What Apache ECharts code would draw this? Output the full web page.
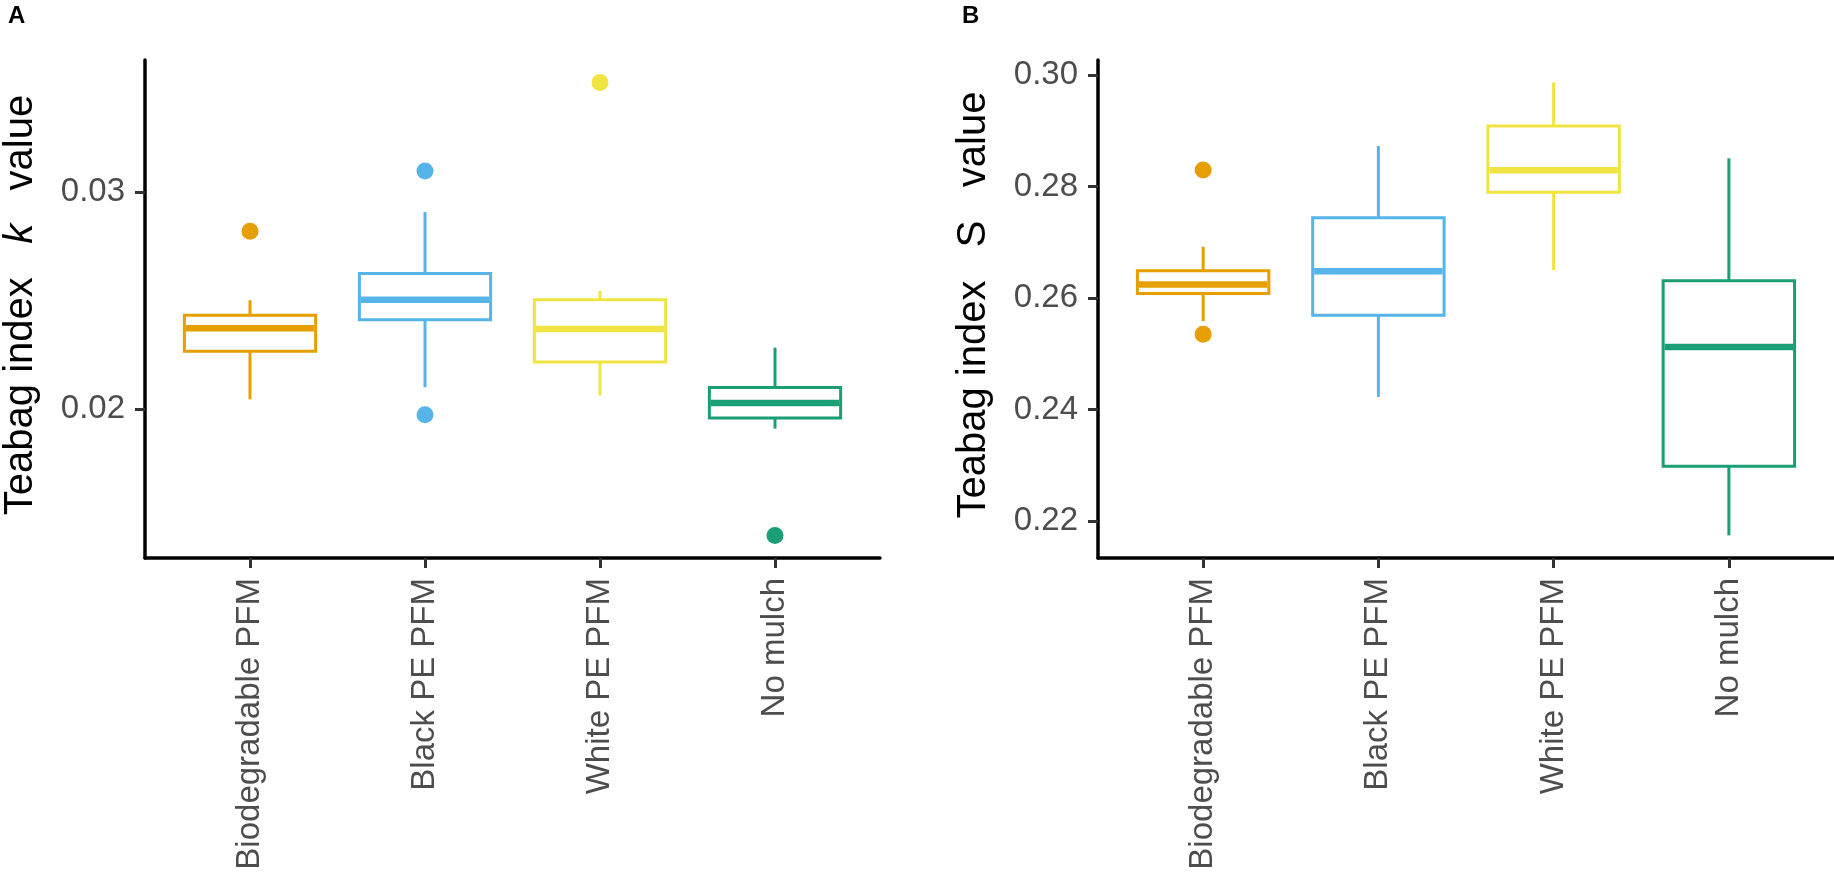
<!DOCTYPE html>
<html>
<head>
<meta charset="utf-8">
<script src="https://cdn.jsdelivr.net/npm/echarts@6/dist/echarts.min.js"></script>
<style>
  html, body { margin: 0; padding: 0; background: #fff; }
  #chart { width: 1834px; height: 874px; }
</style>
</head>
<body>
<div id="chart"></div>
<script>
// groups, in axis order
const categories = ['Biodegradable PFM', 'Black PE PFM', 'White PE PFM', 'No mulch'];
const palette = ['#E69F00', '#56B4E9', '#F0E442', '#1A9E74'];

// panel A: teabag index k  [lower whisker, Q1, median, Q3, upper whisker]
const kStats = [
  [0.02045, 0.02266, 0.02372, 0.02432, 0.02501],
  [0.02101, 0.02412, 0.02504, 0.02624, 0.02908],
  [0.02063, 0.02217, 0.02369, 0.02504, 0.02544],
  [0.01910, 0.01959, 0.02028, 0.02099, 0.02283]
];
// [group number, value]
const kOutliers = [[1, 0.02819], [2, 0.03097], [2, 0.01974], [3, 0.03504], [4, 0.01418]];
const kTicks = [0.02, 0.03];

// panel B: teabag index S
const sStats = [
  [0.25583, 0.26081, 0.26242, 0.26487, 0.26918],
  [0.24225, 0.25691, 0.26481, 0.27438, 0.28725],
  [0.26499, 0.27894, 0.28289, 0.29084, 0.29862],
  [0.21742, 0.22980, 0.25122, 0.26307, 0.28504]
];
const sOutliers = [[1, 0.28294], [1, 0.25350]];
const sTicks = [0.22, 0.24, 0.26, 0.28, 0.30];

const FONT = '"Liberation Sans", Arial, Helvetica, sans-serif';
const groupPos = categories.map((c, i) => i + 1);

const chart = echarts.init(document.getElementById('chart'), null, { renderer: 'canvas' });

// box + whiskers + thick median, ggplot style (no whisker caps)
const renderBox = (params, api) => {
  const x = api.value(0);
  const lo = api.coord([x, api.value(1)]);
  const q1 = api.coord([x, api.value(2)]);
  const md = api.coord([x, api.value(3)]);
  const q3 = api.coord([x, api.value(4)]);
  const hi = api.coord([x, api.value(5)]);
  const half = api.size([0.75, 0])[0] / 2;
  const color = palette[params.dataIndex];
  const line = { stroke: color, lineWidth: 3 };
  return {
    type: 'group',
    children: [
      { type: 'line', shape: { x1: lo[0], y1: lo[1], x2: q1[0], y2: q1[1] }, style: line },
      { type: 'line', shape: { x1: q3[0], y1: q3[1], x2: hi[0], y2: hi[1] }, style: line },
      {
        type: 'rect',
        shape: { x: q3[0] - half, y: q3[1], width: half * 2, height: q1[1] - q3[1] },
        style: { fill: '#fff', stroke: color, lineWidth: 3 },
      },
      {
        type: 'line',
        shape: { x1: md[0] - half + 1.5, y1: md[1], x2: md[0] + half - 1.5, y2: md[1] },
        style: { stroke: color, lineWidth: 6.5 },
      },
    ],
  };
};

const makeXAxis = (gridIndex) => ({
  type: 'value',
  gridIndex: gridIndex,
  min: 0.4,
  max: 4.6,
  splitLine: { show: false },
  axisLine: { show: true, onZero: false, lineStyle: { color: '#000', width: 3.5 } },
  axisTick: { show: true, customValues: groupPos, length: 10, lineStyle: { color: '#333', width: 3 } },
  axisLabel: {
    customValues: groupPos,
    rotate: 90,
    margin: 20,
    color: '#4D4D4D',
    fontSize: 33,
    fontFamily: FONT,
    formatter: (v) => categories[Math.round(v) - 1] || '',
  },
});

const makeYAxis = (gridIndex, min, max, ticks, letter) => ({
  type: 'value',
  gridIndex: gridIndex,
  min: min,
  max: max,
  splitLine: { show: false },
  axisLine: { show: true, onZero: false, lineStyle: { color: '#000', width: 3.5 } },
  axisTick: { show: true, customValues: ticks, length: 10, lineStyle: { color: '#333', width: 3 } },
  axisLabel: {
    customValues: ticks,
    margin: 20,
    color: '#4D4D4D',
    fontSize: 33,
    fontFamily: FONT,
    formatter: (v) => v.toFixed(2),
  },
  name: 'Teabag index   {v|' + letter + '}   value',
  nameLocation: 'middle',
  nameRotate: 90,
  nameGap: 104,
  nameTextStyle: {
    color: '#000',
    fontSize: 40,
    fontFamily: FONT,
    padding: [0, 0, 0, 8],
    rich: {
      v: {
        fontSize: 40,
        fontFamily: FONT,
        color: '#000',
        fontStyle: letter === 'k' ? 'italic' : 'normal',
      },
    },
  },
});

const boxData = (stats) => stats.map((s, i) => [i + 1].concat(s));
const outlierData = (list) =>
  list.map((o) => ({ value: o, itemStyle: { color: palette[o[0] - 1], opacity: 1 } }));

chart.setOption({
  backgroundColor: '#fff',
  animation: false,
  graphic: [
    { type: 'text', left: 8, top: 4, style: { text: 'A', font: 'bold 24px ' + FONT, fill: '#000' } },
    { type: 'text', left: 962, top: 4, style: { text: 'B', font: 'bold 24px ' + FONT, fill: '#000' } },
  ],
  grid: [
    { left: 144, top: 60, width: 736, height: 498 },
    { left: 1098, top: 60, width: 736, height: 498 },
  ],
  xAxis: [makeXAxis(0), makeXAxis(1)],
  yAxis: [
    makeYAxis(0, 0.01314, 0.03608, kTicks, 'k'),
    makeYAxis(1, 0.21336, 0.30268, sTicks, 'S'),
  ],
  series: [
    {
      type: 'custom',
      xAxisIndex: 0,
      yAxisIndex: 0,
      renderItem: renderBox,
      data: boxData(kStats),
      encode: { x: 0, y: [1, 2, 3, 4, 5] },
      z: 2,
    },
    {
      type: 'scatter',
      xAxisIndex: 0,
      yAxisIndex: 0,
      symbolSize: 17,
      data: outlierData(kOutliers),
      z: 3,
    },
    {
      type: 'custom',
      xAxisIndex: 1,
      yAxisIndex: 1,
      renderItem: renderBox,
      data: boxData(sStats),
      encode: { x: 0, y: [1, 2, 3, 4, 5] },
      z: 2,
    },
    {
      type: 'scatter',
      xAxisIndex: 1,
      yAxisIndex: 1,
      symbolSize: 17,
      data: outlierData(sOutliers),
      z: 3,
    },
  ],
});
</script>
</body>
</html>
